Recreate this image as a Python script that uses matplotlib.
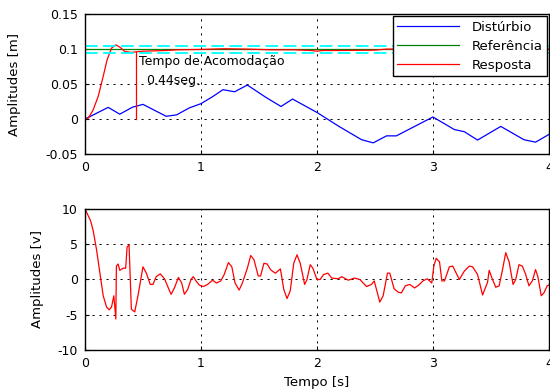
import numpy as np
import matplotlib
matplotlib.use("Agg")
from matplotlib import pyplot as plt

# Disturbio [m]
t_dist = [0, 0.2, 0.3, 0.41, 0.5, 0.7, 0.79, 0.9, 1.0, 1.1, 1.19, 1.29, 1.4, 1.56,
          1.69, 1.79, 2.0, 2.19, 2.385, 2.485, 2.6, 2.685, 3.0, 3.185, 3.27, 3.385,
          3.585, 3.785, 3.885, 4.0]
disturbio = [0, 0.0167, 0.007, 0.017, 0.021, 0.004, 0.006, 0.016, 0.022, 0.032, 0.042,
             0.039, 0.0486, 0.031, 0.018, 0.0286, 0.0095, -0.0105, -0.0295, -0.034,
             -0.024, -0.024, 0.003, -0.015, -0.018, -0.030, -0.0105, -0.0295, -0.033,
             -0.022]

# Resposta [m]
t_resp = [0, 0.029, 0.071, 0.114, 0.157, 0.191, 0.229, 0.266, 0.30, 0.343, 0.40, 0.443,
          0.5, 0.7, 0.8, 1.0, 1.2, 1.4, 1.6, 1.8, 1.95, 2.0, 2.05, 2.2, 2.5, 2.6, 3.0, 4.0]
resposta = [0, 0.0014, 0.0133, 0.0324, 0.061, 0.0848, 0.1014, 0.106, 0.1029, 0.0967,
            0.0952, 0.0962, 0.097, 0.098, 0.099, 0.0995, 0.1005, 0.1, 0.099, 0.099,
            0.098, 0.097, 0.098, 0.098, 0.0985, 0.1, 0.1, 0.1]

referencia = 0.1
faixa = 0.05
t_acomodacao = 0.44

# Sinal de controle [v]
t_ctrl = [0, 0.049, 0.071, 0.1, 0.129, 0.157, 0.186, 0.209, 0.229, 0.249, 0.266, 0.271,
          0.286, 0.3, 0.329, 0.351, 0.363, 0.38, 0.4, 0.429, 0.457, 0.5, 0.529, 0.563,
          0.586, 0.614, 0.649, 0.686, 0.729, 0.743, 0.771, 0.806, 0.834, 0.857, 0.886,
          0.914, 0.934, 0.957, 0.986, 1.02, 1.057, 1.1, 1.134, 1.171, 1.2, 1.237, 1.266,
          1.294, 1.329, 1.357, 1.4, 1.429, 1.457, 1.494, 1.514, 1.543, 1.571, 1.6,
          1.614, 1.642, 1.685, 1.714, 1.742, 1.77, 1.8, 1.828, 1.856, 1.894, 1.914,
          1.942, 1.965, 2.0, 2.028, 2.057, 2.094, 2.128, 2.185, 2.214, 2.27, 2.322,
          2.37, 2.428, 2.47, 2.494, 2.542, 2.571, 2.608, 2.628, 2.665, 2.7, 2.728,
          2.762, 2.8, 2.842, 2.877, 2.914, 2.951, 2.99, 3.008, 3.028, 3.057, 3.077,
          3.1, 3.142, 3.171, 3.228, 3.271, 3.314, 3.342, 3.385, 3.428, 3.471, 3.485,
          3.514, 3.542, 3.571, 3.6, 3.628, 3.657, 3.691, 3.714, 3.742, 3.771, 3.8,
          3.828, 3.857, 3.885, 3.905, 3.934, 3.957, 3.985, 4.0]
controle = [10, 8.3, 6.9, 4.2, 0.9, -2.3, -3.9, -4.3, -3.9, -2.3, -5.6, 1.9, 2.2, 1.3,
            1.6, 1.6, 4.6, 4.9, -4.2, -4.6, -2.3, 1.8, 0.9, -0.7, -0.7, 0.4, 0.8, 0.1,
            -1.6, -2.1, -1.2, 0.3, -0.5, -2.1, -1.4, 0, 0.4, -0.2, -0.8, -1.0, -0.7,
            -0.1, -0.5, -0.2, 0.7, 2.4, 1.8, -0.5, -1.5, -0.5, 1.6, 3.4, 2.8, 0.5, 0.5,
            2.3, 2.2, 1.4, 1.2, 0.9, 1.5, -1.4, -2.7, -1.6, 2.3, 3.5, 2.3, -0.7, 0,
            2.1, 1.6, 0, 0, 0.7, 0.9, 0.2, 0.1, 0.4, -0.1, 0.2, 0, -1.0, -0.7, -0.2,
            -3.2, -2.3, 0.9, 0.9, -1.3, -1.8, -1.9, -0.9, -0.7, -1.2, -0.8, -0.2, 0.1,
            -0.5, 1.9, 3.0, 2.5, -0.2, -0.2, 1.8, 1.9, 0, 1.2, 1.9, 1.8, 0.7, -2.2,
            -0.4, 1.3, 0, -1.1, -0.9, 1.4, 3.8, 2.5, -0.7, 0, 2.1, 1.9, 0.7, -0.9,
            -0.2, 1.4, 0.4, -2.3, -1.9, -0.9, -0.8]

plt.rcParams['font.family'] = ['DejaVu Sans']
plt.rcParams['axes.unicode_minus'] = False
grid_style = dict(color='black', linestyle=(0, (2.2, 5)), linewidth=0.7)

fig = plt.figure(figsize=(5.5, 3.92), dpi=100)
ax1 = fig.add_axes([0.1545, 0.607, 0.8435, 0.357])
ax2 = fig.add_axes([0.1545, 0.107, 0.8435, 0.360])

# top plot
ax1.plot(t_dist, disturbio, color='blue', lw=0.9, label='Distúrbio')
ax1.axhline(referencia, color='green', lw=0.9, label='Referência')
ax1.plot(t_resp, resposta, color='red', lw=0.9, label='Resposta')
for k in (1 + faixa, 1 - faixa):
    ax1.axhline(referencia * k, color='cyan', lw=1.3, linestyle=(0, (7, 3)))
y_acom = np.interp(t_acomodacao, t_resp, resposta)
ax1.plot([t_acomodacao, t_acomodacao], [0, y_acom], color='red', lw=0.9)
ax1.text(t_acomodacao + 0.025, 0.077, 'Tempo de Acomodação', fontsize=9)
ax1.text(t_acomodacao + 0.085, 0.050, '%.2fseg.' % t_acomodacao, fontsize=9)

ax1.set_xlim(0, 4)
ax1.set_ylim(-0.05, 0.15)
ax1.set_xticks([0, 1, 2, 3, 4])
ax1.set_yticks([-0.05, 0, 0.05, 0.1, 0.15])
ax1.set_yticklabels(['-0.05', '0', '0.05', '0.1', '0.15'])
ax1.set_ylabel('Amplitudes [m]', fontsize=9.5, labelpad=18)
ax1.grid(True, **grid_style)
leg = ax1.legend(loc='upper right', fontsize=9.5, handlelength=4.7, handletextpad=0.9,
                 borderpad=0.35, labelspacing=0.45, borderaxespad=0.15, fancybox=False,
                 framealpha=1)
leg.get_frame().set_edgecolor('black')
leg.get_frame().set_linewidth(1.0)

# bottom plot
ax2.plot(t_ctrl, controle, color='red', lw=0.9)
ax2.set_xlim(0, 4)
ax2.set_ylim(-10, 10)
ax2.set_xticks([0, 1, 2, 3, 4])
ax2.set_yticks([-10, -5, 0, 5, 10])
ax2.set_ylabel('Amplitudes [v]', fontsize=9.5, labelpad=10)
ax2.set_xlabel('Tempo [s]', fontsize=9.5)
ax2.grid(True, **grid_style)

for ax in (ax1, ax2):
    ax.tick_params(direction='in', length=3, labelsize=9, pad=5)
    for s in ax.spines.values():
        s.set_linewidth(1.0)

fig.savefig('out.png', dpi=100)
